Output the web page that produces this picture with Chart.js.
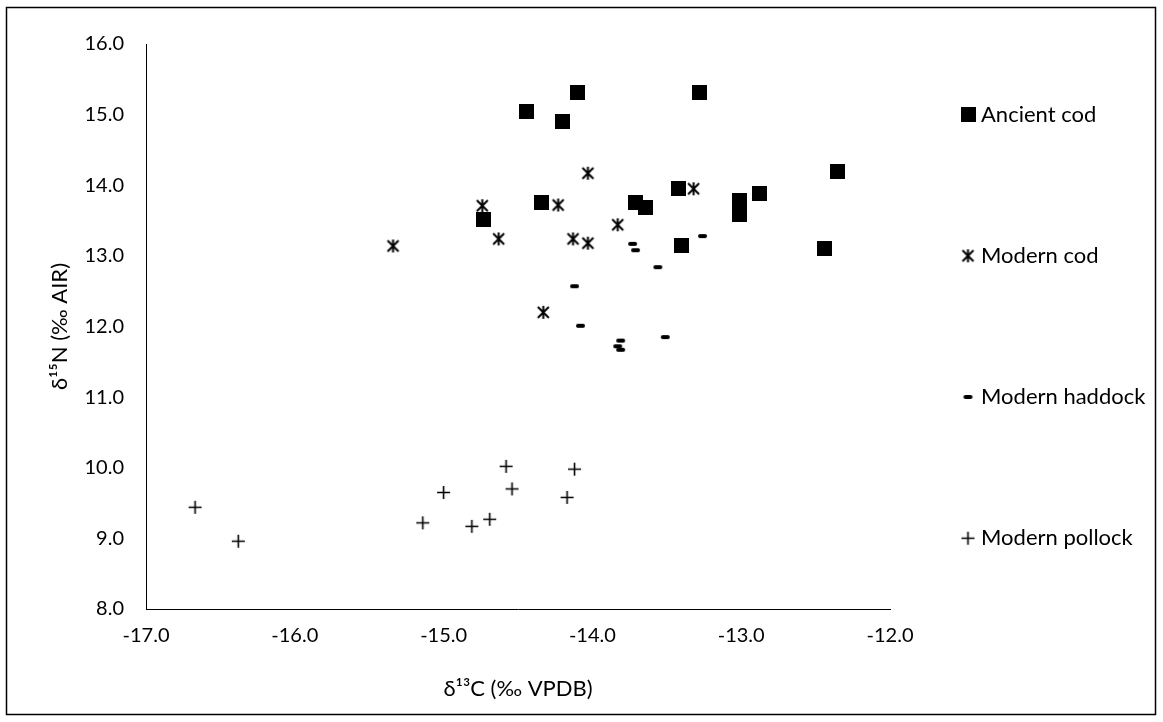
<!DOCTYPE html>
<html>
<head>
<meta charset="utf-8">
<script src="https://cdn.jsdelivr.net/npm/chart.js@4"></script>
<style>
  html, body { margin: 0; padding: 0; background: #fff; }
  #wrap { width: 1163px; height: 722px; }
</style>
</head>
<body>
<div id="wrap"><canvas id="isotopeChart" width="1163" height="722"></canvas></div>
<script>
// Data ---------------------------------------------------------------------
const seriesNames = ['Ancient cod', 'Modern cod', 'Modern haddock', 'Modern pollock'];

const ancientCodC = [-14.44, -14.10, -14.20, -13.28, -14.34, -14.73, -13.71, -13.64, -13.42, -13.40, -13.01, -13.01, -12.88, -12.35, -12.44];
const ancientCodN = [15.04, 15.32, 14.90, 15.31, 13.75, 13.52, 13.75, 13.68, 13.95, 13.15, 13.79, 13.58, 13.88, 14.20, 13.10];

const modernCodC = [-15.34, -14.74, -14.63, -14.23, -14.03, -14.13, -14.03, -13.83, -13.32, -14.33];
const modernCodN = [13.14, 13.71, 13.24, 13.72, 14.17, 13.24, 13.18, 13.44, 13.95, 12.20];

const haddockC = [-13.26, -13.73, -13.71, -13.56, -14.12, -14.08, -13.51, -13.81, -13.83, -13.81];
const haddockN = [13.28, 13.17, 13.08, 12.84, 12.57, 12.01, 11.85, 11.80, 11.72, 11.67];

const pollockC = [-16.67, -16.38, -15.14, -15.00, -14.81, -14.69, -14.58, -14.54, -14.17, -14.12];
const pollockN = [9.44, 8.96, 9.22, 9.65, 9.17, 9.27, 10.02, 9.70, 9.58, 9.98];

const xTickValues = [-17, -16, -15, -14, -13, -12];
const yTickValues = [8, 9, 10, 11, 12, 13, 14, 15, 16];

// Markers (drawn on small canvases, used as point styles) -------------------
function makeMarker(w, h, draw) {
  const c = document.createElement('canvas');
  c.width = w; c.height = h;
  const g = c.getContext('2d');
  g.strokeStyle = '#000';
  g.fillStyle = '#000';
  draw(g);
  return c;
}

const squareMark = makeMarker(15, 15, g => g.fillRect(0, 0, 15, 15));
const asteriskMark = makeMarker(15, 15, g => {
  g.lineWidth = 2;
  g.beginPath();
  g.moveTo(7.5, 1); g.lineTo(7.5, 14);
  g.moveTo(2, 2); g.lineTo(13, 13);
  g.moveTo(13, 2); g.lineTo(2, 13);
  g.stroke();
});
const dashMark = makeMarker(11, 6, g => {
  g.lineWidth = 4;
  g.lineCap = 'round';
  g.beginPath();
  g.moveTo(3, 3); g.lineTo(8, 3);
  g.stroke();
});
const plusMark = makeMarker(15, 15, g => {
  g.lineWidth = 1.6;
  g.beginPath();
  g.moveTo(1, 7.5); g.lineTo(14, 7.5);
  g.moveTo(7.5, 1); g.lineTo(7.5, 14);
  g.stroke();
});

const markers = [squareMark, asteriskMark, dashMark, plusMark];

function toPoints(xs, ys) {
  return xs.map((x, i) => ({ x: x, y: ys[i] }));
}

const FONT = 'Lato';
const TEXT = '#000';

// Frame + side legend ---------------------------------------------------------
const legendRows = [114.6, 255.8, 397, 538.2];

const frameAndLegend = {
  id: 'frameAndLegend',
  beforeDraw(chart) {
    const ctx = chart.ctx;
    ctx.save();
    ctx.fillStyle = '#fff';
    ctx.fillRect(0, 0, chart.width, chart.height);
    ctx.strokeStyle = '#000';
    ctx.lineWidth = 1.5;
    ctx.strokeRect(6.5, 7.5, 1149, 707);
    ctx.restore();
  },
  afterDraw(chart) {
    const ctx = chart.ctx;
    ctx.save();
    ctx.font = '22px ' + FONT;
    ctx.fillStyle = TEXT;
    ctx.textBaseline = 'middle';
    seriesNames.forEach((name, i) => {
      const m = markers[i];
      const y = legendRows[i];
      ctx.drawImage(m, 968 - m.width / 2, y - m.height / 2);
      ctx.fillText(name, 981, y);
    });
    ctx.restore();
  }
};

// Chart -----------------------------------------------------------------------
const ctx = document.getElementById('isotopeChart').getContext('2d');
new Chart(ctx, {
  type: 'scatter',
  data: {
    datasets: [
      { label: seriesNames[0], data: toPoints(ancientCodC, ancientCodN), pointStyle: squareMark },
      { label: seriesNames[1], data: toPoints(modernCodC, modernCodN), pointStyle: asteriskMark },
      { label: seriesNames[2], data: toPoints(haddockC, haddockN), pointStyle: dashMark },
      { label: seriesNames[3], data: toPoints(pollockC, pollockN), pointStyle: plusMark }
    ]
  },
  options: {
    responsive: false,
    animation: false,
    events: [],
    layout: { padding: { left: 0, right: 273, top: 44, bottom: 0 } },
    plugins: {
      legend: { display: false },
      tooltip: { enabled: false }
    },
    scales: {
      x: {
        type: 'linear',
        min: -17, max: -12,
        afterBuildTicks: s => { s.ticks = xTickValues.map(v => ({ value: v })); },
        afterFit: s => { s.height = 113; },
        grid: { display: false, drawTicks: false },
        border: { display: true, color: '#000', width: 1 },
        ticks: {
          padding: 15,
          color: TEXT,
          font: { family: FONT, size: 20 },
          maxRotation: 0,
          callback: v => v.toFixed(1)
        },
        title: {
          display: true,
          text: 'δ¹³C (‰ VPDB)',
          color: TEXT,
          font: { family: FONT, size: 22 },
          padding: { top: 0, bottom: 20 }
        }
      },
      y: {
        type: 'linear',
        min: 8, max: 16,
        afterBuildTicks: s => { s.ticks = yTickValues.map(v => ({ value: v })); },
        afterFit: s => { s.width = 146; },
        grid: { display: false, drawTicks: false },
        border: { display: true, color: '#000', width: 1 },
        ticks: {
          padding: 22,
          color: TEXT,
          font: { family: FONT, size: 20 },
          callback: v => v.toFixed(1)
        },
        title: {
          display: true,
          text: 'δ¹⁵N (‰ AIR)',
          color: TEXT,
          font: { family: FONT, size: 22 },
          padding: { top: 47, bottom: 0 }
        }
      }
    }
  },
  plugins: [frameAndLegend]
});
</script>
</body>
</html>
